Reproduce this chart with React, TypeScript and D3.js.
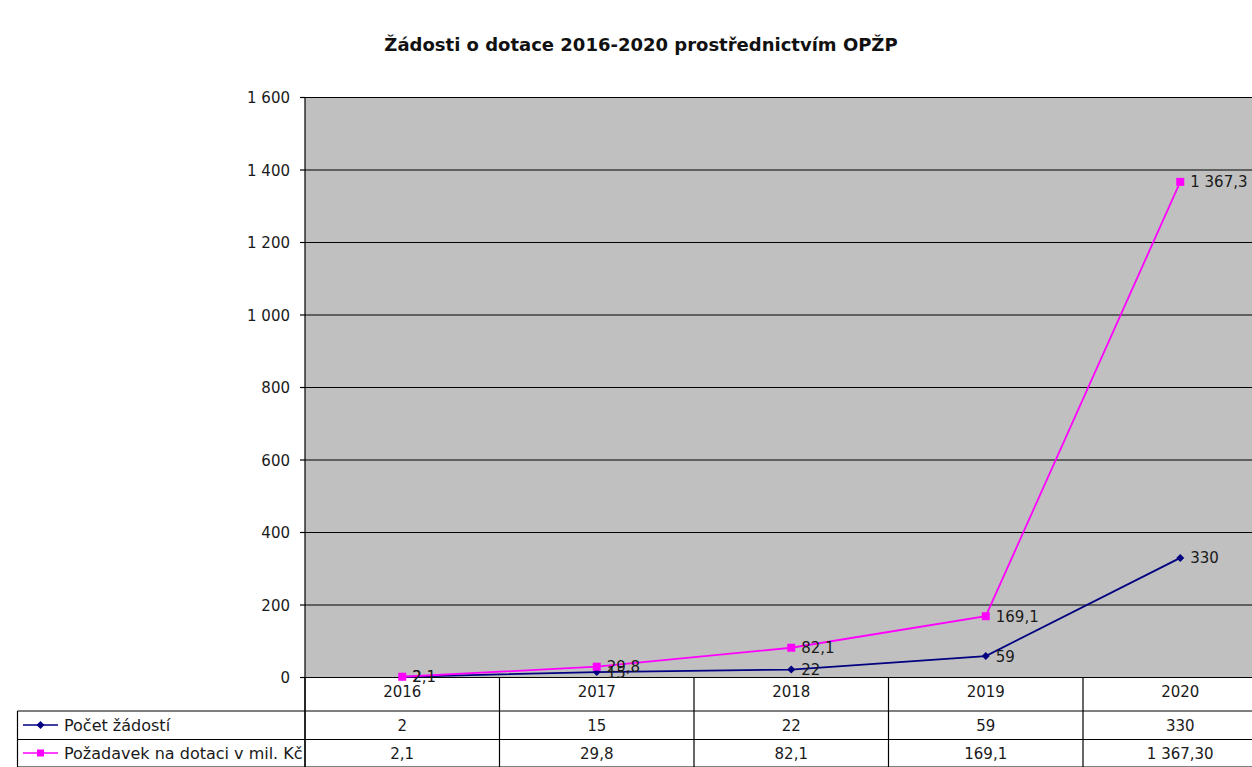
import React from 'react';
import * as d3 from 'd3';

const title = 'Žádosti o dotace 2016-2020 prostřednictvím OPŽP';
const years = ['2016', '2017', '2018', '2019', '2020'];
const seriesNames = ['Počet žádostí', 'Požadavek na dotaci v mil. Kč'];
const pocet = [2, 15, 22, 59, 330];
const pozadavek = [2.1, 29.8, 82.1, 169.1, 1367.3];
const pocetLabels = ['2', '15', '22', '59', '330'];
const pozadavekLabels = ['2,1', '29,8', '82,1', '169,1', '1 367,3'];
const tableRow1 = ['2', '15', '22', '59', '330'];
const tableRow2 = ['2,1', '29,8', '82,1', '169,1', '1 367,30'];
const yTicks = [0, 200, 400, 600, 800, 1000, 1200, 1400, 1600];

const W = 1252;
const H = 767;
const FONT = '"DejaVu Sans", Verdana, sans-serif';
const NAVY = '#000080';
const PINK = '#ff00ff';
const TXT = '#1a1a1a';

const loc = d3.formatLocale({ decimal: ',', thousands: '\u00a0', grouping: [3], currency: ['', ''] });
const fmt = loc.format(',d');

export default function App() {
  const left = 305;
  const band = 194.5;
  const x = d3.scaleBand<string>().domain(years).range([left, left + band * years.length]).padding(0);
  const y = d3.scaleLinear().domain([0, 1600]).range([677.5, 97.5]);
  const cx = (d: string) => (x(d) as number) + x.bandwidth() / 2;
  const line = d3.line<number>().x((_, i) => cx(years[i])).y((v) => y(v));

  const plotRight = W + 30;
  const rowTop = 711;
  const rowMid = 739.5;
  const rowBot = 767.5;
  const boundaries = years.map((d) => x(d) as number).concat([left + band * years.length]);

  const diamond = (px: number, py: number, r = 4) =>
    `M${px},${py - r}L${px + r},${py}L${px},${py + r}L${px - r},${py}Z`;

  const fs = 15;

  return (
    <svg width={W} height={H} style={{ position: 'absolute', left: 0, top: 0, background: '#fff' }} fontFamily={FONT}>
      <text x={641} y={51} textAnchor="middle" fontWeight="bold" fontSize={18} fill="#111">{title}</text>

      {/* plot area */}
      <rect x={left} y={y(1600)} width={plotRight - left} height={y(0) - y(1600)} fill="#c0c0c0" />
      {yTicks.map((t) => (
        <g key={t}>
          <line x1={left} x2={plotRight} y1={y(t)} y2={y(t)} stroke="#000" strokeWidth={1.2} />
          <line x1={300} x2={left} y1={y(t)} y2={y(t)} stroke="#000" strokeWidth={1.2} />
          <text x={290} y={y(t) + 5.5} textAnchor="end" fontSize={fs} fill={TXT}>{fmt(t)}</text>
        </g>
      ))}
      <line x1={left} x2={left} y1={y(1600)} y2={rowBot} stroke="#000" strokeWidth={1.2} />

      {/* table */}
      {boundaries.map((b, i) => (
        <line key={i} x1={b} x2={b} y1={y(0)} y2={rowBot} stroke="#000" strokeWidth={1.2} />
      ))}
      <line x1={17.5} x2={plotRight} y1={rowTop} y2={rowTop} stroke="#000" strokeWidth={1.2} />
      <line x1={17.5} x2={plotRight} y1={rowMid} y2={rowMid} stroke="#000" strokeWidth={1.2} />
      <line x1={17.5} x2={plotRight} y1={rowBot - 0.5} y2={rowBot - 0.5} stroke="#000" strokeWidth={1.2} />
      <line x1={17.5} x2={17.5} y1={rowTop} y2={rowBot} stroke="#000" strokeWidth={1.2} />
      {years.map((d, i) => (
        <g key={d}>
          <text x={cx(d)} y={697} textAnchor="middle" fontSize={fs} fill={TXT}>{d}</text>
          <text x={cx(d)} y={730.5} textAnchor="middle" fontSize={fs} fill={TXT}>{tableRow1[i]}</text>
          <text x={cx(d)} y={758.5} textAnchor="middle" fontSize={fs} fill={TXT}>{tableRow2[i]}</text>
        </g>
      ))}
      {/* legend keys */}
      <line x1={23} x2={58} y1={725} y2={725} stroke={NAVY} strokeWidth={1.7} />
      <path d={diamond(40.5, 725)} fill={NAVY} />
      <line x1={23} x2={58} y1={753} y2={753} stroke={PINK} strokeWidth={1.7} />
      <rect x={37} y={749.5} width={7} height={7} fill={PINK} />
      <clipPath id="legclip"><rect x={18} y={rowTop} width={left - 18} height={rowBot - rowTop} /></clipPath>
      <g clipPath="url(#legclip)">
        <text x={64} y={731} fontSize={16} fill={TXT}>{seriesNames[0]}</text>
        <text x={64} y={759} fontSize={16} fill={TXT}>{seriesNames[1]}</text>
      </g>

      {/* series */}
      <path d={line(pocet) as string} fill="none" stroke={NAVY} strokeWidth={1.8} />
      {pocet.map((v, i) => (
        <path key={i} d={diamond(cx(years[i]), y(v))} fill={NAVY} />
      ))}
      {pocet.map((v, i) => (
        <text key={i} x={cx(years[i]) + 10} y={y(v) + 5.5} fontSize={fs} fill={TXT}>{pocetLabels[i]}</text>
      ))}
      <path d={line(pozadavek) as string} fill="none" stroke={PINK} strokeWidth={1.8} />
      {pozadavek.map((v, i) => (
        <rect key={i} x={cx(years[i]) - 4} y={y(v) - 4} width={8} height={8} fill={PINK} />
      ))}
      {pozadavek.map((v, i) => (
        <text key={i} x={cx(years[i]) + 10} y={y(v) + 5.5} fontSize={fs} fill={TXT}>{pozadavekLabels[i]}</text>
      ))}
    </svg>
  );
}
